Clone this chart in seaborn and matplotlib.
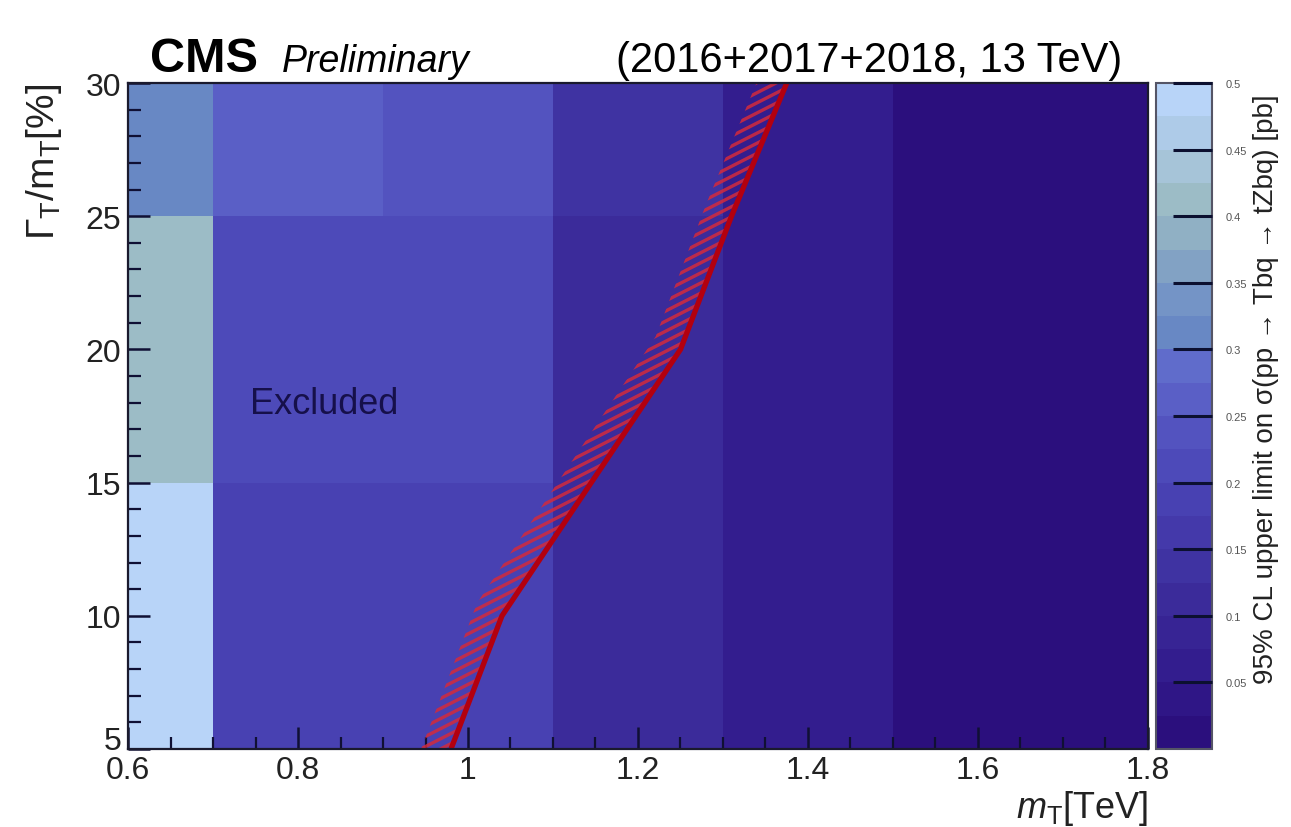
import numpy as np
import pandas as pd
import matplotlib
matplotlib.use("Agg")
import matplotlib.pyplot as plt
import seaborn as sns
from matplotlib.colors import ListedColormap, BoundaryNorm
from matplotlib.collections import LineCollection
from matplotlib.patches import Polygon
from matplotlib import font_manager

# ---- data -------------------------------------------------------------
# bin edges of the scan
mass_edges = [0.6, 0.7, 0.9, 1.1, 1.3, 1.5, 1.8]      # m_T [TeV]
width_edges = [5, 15, 25, 30]                        # Gamma_T / m_T [%]

# 95% CL upper limits [pb], one list per width bin (low -> high)
limit_w05_15 = [0.49, 0.19, 0.19, 0.10, 0.065, 0.02]
limit_w15_25 = [0.40, 0.22, 0.22, 0.10, 0.065, 0.02]
limit_w25_30 = [0.32, 0.26, 0.23, 0.15, 0.075, 0.02]

# exclusion contour
contour_mass = [0.98, 1.04, 1.145, 1.25, 1.31, 1.375]
contour_width = [5, 10, 15, 20, 25, 30]

x_ticks = [0.6, 0.8, 1.0, 1.2, 1.4, 1.6, 1.8]
x_tick_labels = ["0.6", "0.8", "1", "1.2", "1.4", "1.6", "1.8"]
y_ticks = [5, 10, 15, 20, 25, 30]
z_ticks = [0.05, 0.1, 0.15, 0.2, 0.25, 0.3, 0.35, 0.4, 0.45, 0.5]
z_tick_labels = ["0.05", "0.1", "0.15", "0.2", "0.25", "0.3", "0.35", "0.4", "0.45", "0.5"]

# ---- fonts --------------------------------------------------------------
def has_font(name):
    try:
        font_manager.findfont(font_manager.FontProperties(family=name),
                              fallback_to_default=False)
        return True
    except Exception:
        return False

NARROW = "Liberation Sans Narrow" if has_font("Liberation Sans Narrow") else "Liberation Sans"

sns.set_theme(style="ticks")
plt.rcParams["font.family"] = ["Liberation Sans", "DejaVu Sans"]
plt.rcParams["mathtext.fontset"] = "custom"
plt.rcParams["mathtext.rm"] = NARROW
plt.rcParams["mathtext.it"] = NARROW + ":italic"
plt.rcParams["mathtext.bf"] = NARROW + ":bold"
plt.rcParams["axes.axisbelow"] = False

# ---- palette: 20 discrete levels between 0 and 0.5 pb -------------------
level_colors = [
    "#2b0f7d", "#2f1686", "#331d8e", "#372494", "#3b2b9a",
    "#3f33a2", "#4439aa", "#4841b2", "#4d4ab9", "#5353bf",
    "#5a5fc6", "#606ccb", "#6888c4", "#7494c6", "#82a2c4",
    "#90b0c4", "#9cbcc6", "#a6c4d8", "#aecbe8", "#b8d4f8",
]
cmap = ListedColormap(level_colors)
norm = BoundaryNorm(np.linspace(0, 0.5, 21), cmap.N)

W, H = 1291, 828
fig = plt.figure(figsize=(W / 100, H / 100), dpi=100)
fig.patch.set_facecolor("white")
ax = fig.add_axes([128 / W, 78 / H, 1020 / W, 666 / H])
cax = fig.add_axes([1156 / W, 78 / H, 56 / W, 666 / H])
ax.set_axisbelow(False)

limits = np.array([limit_w05_15, limit_w15_25, limit_w25_30])
mesh = ax.pcolormesh(mass_edges, width_edges, limits, cmap=cmap, norm=norm,
                     shading="flat", zorder=1)

ax.set_xlim(0.6, 1.8)
ax.set_ylim(5, 30)

# ---- hatched band on the excluded side of the contour -------------------
pts = ax.transData.transform(np.column_stack([contour_mass, contour_width]))
# extend both ends so the band reaches past the frame (clipped later)
d0 = (pts[1] - pts[0]) / np.linalg.norm(pts[1] - pts[0])
d1 = (pts[-1] - pts[-2]) / np.linalg.norm(pts[-1] - pts[-2])
ext = np.vstack([pts[0] - 60 * d0, pts, pts[-1] + 60 * d1])
seg = np.diff(ext, axis=0)
seg /= np.linalg.norm(seg, axis=1)[:, None]
seg_n = np.column_stack([-seg[:, 1], seg[:, 0]])          # left-hand normals
vert_n = np.vstack([seg_n[0], seg_n[:-1] + seg_n[1:], seg_n[-1]])
vert_n /= np.linalg.norm(vert_n, axis=1)[:, None]
band_w = 28.0
inner = ext + band_w * vert_n
band_disp = np.vstack([ext, inner[::-1]])
inv = ax.transData.inverted()
band_data = inv.transform(band_disp)
band = Polygon(band_data, closed=True, facecolor="none", edgecolor="none",
               transform=ax.transData)
ax.add_patch(band)

theta = np.deg2rad(27)
u = np.array([np.cos(theta), np.sin(theta)])
v = np.array([-np.sin(theta), np.cos(theta)])
pv = band_disp @ v
pu = band_disp @ u
hatch_segs = []
for c in np.arange(pv.min(), pv.max(), 9.0):
    a = c * v + (pu.min() - 5) * u
    b = c * v + (pu.max() + 5) * u
    hatch_segs.append(inv.transform(np.vstack([a, b])))
hatch = LineCollection(hatch_segs, colors="#d42a3c", linewidths=2.4,
                       alpha=0.85, zorder=3, transform=ax.transData)
ax.add_collection(hatch)
hatch.set_clip_path(band)

contour_df = pd.DataFrame({"mass": contour_mass, "width": contour_width})
sns.lineplot(data=contour_df, x="mass", y="width", sort=False, estimator=None,
             color="#b3000f", linewidth=3.8, ax=ax, zorder=4, legend=False)
ax.set_xlim(0.6, 1.8)
ax.set_ylim(5, 30)
ax.set_xlabel("")
ax.set_ylabel("")

ax.text(0.743, 17.6, "Excluded", fontsize=26, color="#16104a",
        family=["Liberation Sans", "DejaVu Sans"], zorder=5)

# ---- axes styling -------------------------------------------------------
tick_font = {"family": [NARROW, "Liberation Sans"], "size": 23}
ax.set_xticks(x_ticks)
ax.set_xticklabels(x_tick_labels, fontdict=tick_font)
ax.set_xticks(np.arange(0.6, 1.8001, 0.05), minor=True)
ax.set_yticks(y_ticks)
ax.set_yticklabels([str(t) for t in y_ticks], fontdict=tick_font)
ax.set_yticks(np.arange(5, 30.01, 1), minor=True)
# lowest y label sits on the frame edge, above the first x label
ax.get_yticklabels()[0].set_verticalalignment("baseline")
ax.tick_params(which="both", direction="in", color="#101034",
               top=False, right=False)
ax.tick_params(axis="x", which="major", length=16, width=1.8, pad=4, labelcolor="#222222")
ax.tick_params(axis="x", which="minor", length=9, width=1.6)
ax.tick_params(axis="y", which="major", length=16, width=1.8, pad=5, labelcolor="#222222")
ax.tick_params(axis="y", which="minor", length=9, width=1.6)
for s in ax.spines.values():
    s.set_color("#1a1a2e")
    s.set_linewidth(1.6)
    s.set_zorder(6)

# ---- colour bar ---------------------------------------------------------
cb = fig.colorbar(mesh, cax=cax, ticks=z_ticks)
cb.ax.set_yticklabels(z_tick_labels)
cb.ax.minorticks_off()
cax.set_axisbelow(False)
cb.outline.set_edgecolor("#555566")
cb.outline.set_linewidth(1.5)
cax.yaxis.set_ticks_position("right")
cax.tick_params(axis="y", which="major", direction="in", length=28, width=2.2,
                color="#0c1030", labelsize=8, labelcolor="#555555", pad=10)

fig.text(1266 / W, 1 - 94 / H,
         "95% CL upper limit on σ(pp → Tbq → tZbq) [pb]",
         rotation=90, ha="center", va="top", fontsize=20, color="#222222",
         family=[NARROW, "Liberation Sans", "DejaVu Sans"])

# ---- axis titles --------------------------------------------------------
fig.text(1148 / W, 1 - 818 / H, r"$m_{\rm T}$[TeV]", ha="right", va="baseline",
         fontsize=26, color="#222222")
fig.text(44 / W, 1 - 84 / H, r"$\Gamma_{\rm T}/{\rm m}_{\rm T}$[%]", rotation=90,
         ha="center", va="top", fontsize=28, color="#222222")

# ---- header -------------------------------------------------------------
fig.text(150 / W, 1 - 72 / H, "CMS", fontsize=35, fontweight="bold",
         ha="left", va="baseline", color="black")
fig.text(282 / W, 1 - 72 / H, "Preliminary", fontsize=27, fontstyle="italic",
         ha="left", va="baseline", color="black")
fig.text(1122 / W, 1 - 72 / H, "(2016+2017+2018, 13 TeV)", fontsize=30,
         ha="right", va="baseline", color="black")

fig.savefig("out.png", dpi=100, facecolor="white")
